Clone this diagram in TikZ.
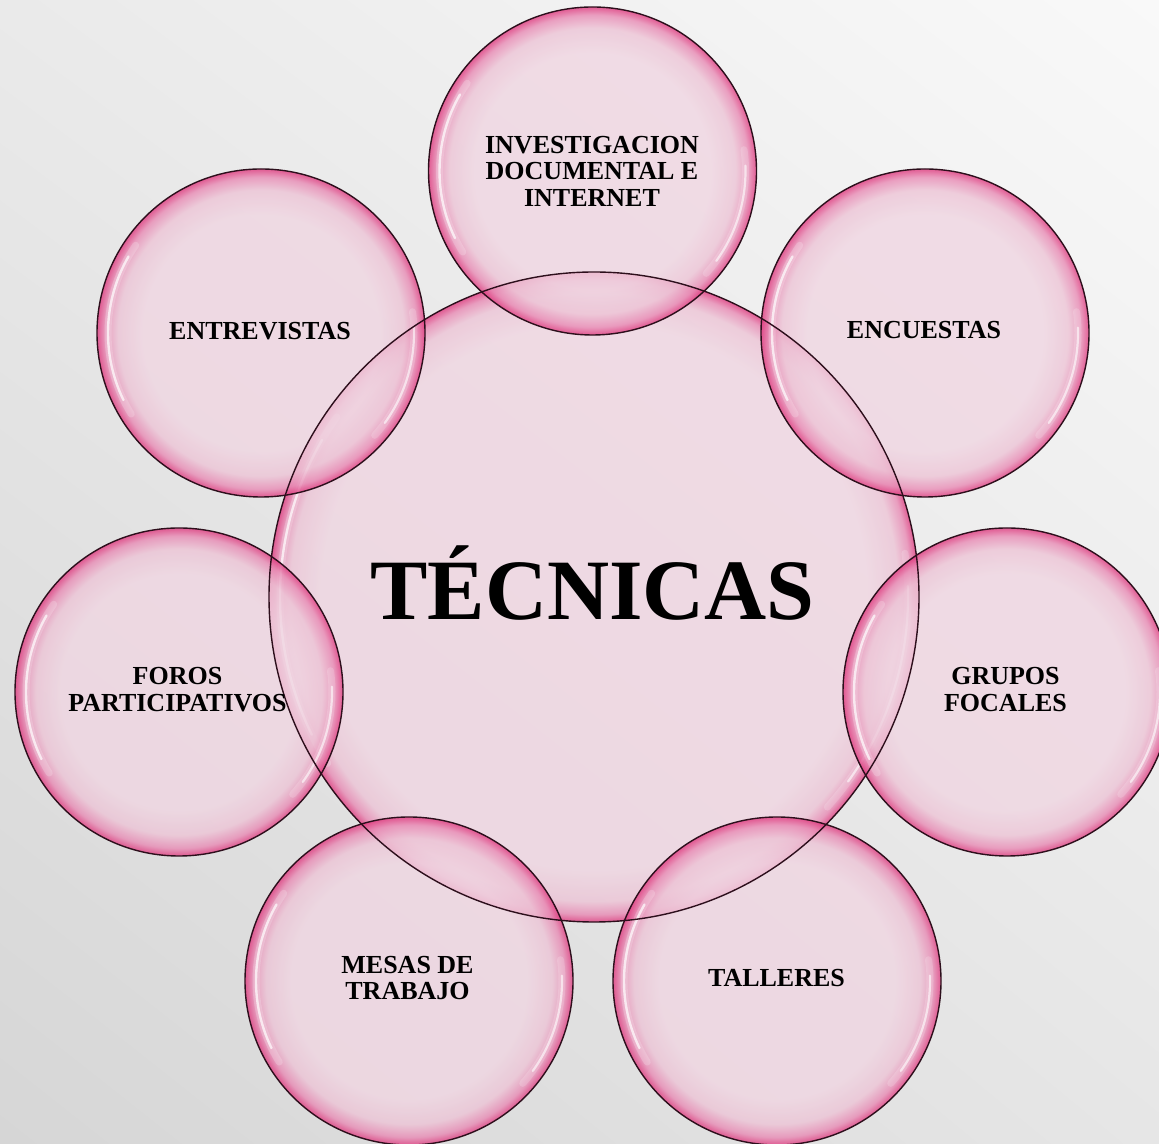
\documentclass[tikz,border=0pt]{standalone}
\usepackage{fontspec}
\setmainfont{Liberation Serif}
\usetikzlibrary{shadings}
\definecolor{bin}{RGB}{240,214,226}
\definecolor{bsoft}{RGB}{237,196,214}
\definecolor{bmid}{RGB}{232,138,180}
\definecolor{brim}{RGB}{222,56,125}
\definecolor{bline}{RGB}{45,15,28}
\definecolor{bgUL}{RGB}{234,234,234}
\definecolor{bgUR}{RGB}{249,249,249}
\definecolor{bgLL}{RGB}{214,214,214}
\definecolor{bgLR}{RGB}{230,230,230}
\pgfdeclareradialshading{bubbleS}{\pgfpoint{0bp}{0bp}}{color(0bp)=(bin); color(18bp)=(bin); color(21.8bp)=(bsoft); color(23.8bp)=(bmid); color(25bp)=(brim); color(50bp)=(brim)}
\pgfdeclareradialshading{bubbleL}{\pgfpoint{0bp}{0bp}}{color(0bp)=(bin); color(21bp)=(bin); color(23.4bp)=(bsoft); color(24.4bp)=(bmid); color(25bp)=(brim); color(50bp)=(brim)}
\newcommand\mybubble[4]{%
  \shade[shading=#4, fill opacity=0.8] (#1,#2) circle[radius=#3];
  \draw[white, line width=7pt, opacity=0.2, line cap=round] ([shift={(145:{#3-11})}]#1,#2) arc[start angle=145, end angle=212, radius={#3-11}];
  \draw[white, line width=2.4pt, opacity=0.7, line cap=round] ([shift={(150:{#3-11})}]#1,#2) arc[start angle=150, end angle=206, radius={#3-11}];
  \draw[white, line width=7pt, opacity=0.18, line cap=round] ([shift={(-42:{#3-11})}]#1,#2) arc[start angle=-42, end angle=8, radius={#3-11}];
  \draw[white, line width=2.2pt, opacity=0.6, line cap=round] ([shift={(-36:{#3-11})}]#1,#2) arc[start angle=-36, end angle=2, radius={#3-11}];
}
\newcommand\myoutline[3]{\draw[bline, line width=1.4pt] (#1,#2) circle[radius=#3];}
\tikzset{
  small/.style={inner sep=0pt, align=center, text=black, font=\bfseries\fontsize{26}{26.5}\selectfont},
  big/.style={inner sep=0pt, text=black, font=\bfseries\fontsize{86}{90}\selectfont}
}
\begin{document}
\begin{tikzpicture}[x=1pt,y=1pt]
\useasboundingbox (0,0) rectangle (1159,1143);
\clip (0,0) rectangle (1159,1143);
\shade[upper left=bgUL, upper right=bgUR, lower left=bgLL, lower right=bgLR] (0,0) rectangle (1159,1143);
% central bubble
\mybubble{594}{546}{325}{bubbleL}
% satellites
\mybubble{592.5}{972}{164}{bubbleS}
\mybubble{261}{810}{164}{bubbleS}
\mybubble{925}{810}{164}{bubbleS}
\mybubble{179}{451}{164}{bubbleS}
\mybubble{1007}{451}{164}{bubbleS}
\mybubble{409}{162}{164}{bubbleS}
\mybubble{777}{162}{164}{bubbleS}
% outlines
\myoutline{594}{546}{325}
\myoutline{592.5}{972}{164}
\myoutline{261}{810}{164}
\myoutline{925}{810}{164}
\myoutline{179}{451}{164}
\myoutline{1007}{451}{164}
\myoutline{409}{162}{164}
\myoutline{777}{162}{164}
% texts
\node[big, anchor=base] (tec) at (592.5,523) {TÉCNICAS};
\node[small] (inv) at (592,972) {INVESTIGACION\\DOCUMENTAL E\\INTERNET};
\node[small, anchor=base] (ent) at (260,803) {ENTREVISTAS};
\node[small, anchor=base] (enc) at (924,804) {ENCUESTAS};
\node[small] (for) at (177.5,453.5) {FOROS\\PARTICIPATIVOS};
\node[small] (gru) at (1005.5,453.5) {GRUPOS\\FOCALES};
\node[small] (mes) at (407.5,165) {MESAS DE\\TRABAJO};
\node[small, anchor=base] (tal) at (776.5,156) {TALLERES};
\end{tikzpicture}
\end{document}
